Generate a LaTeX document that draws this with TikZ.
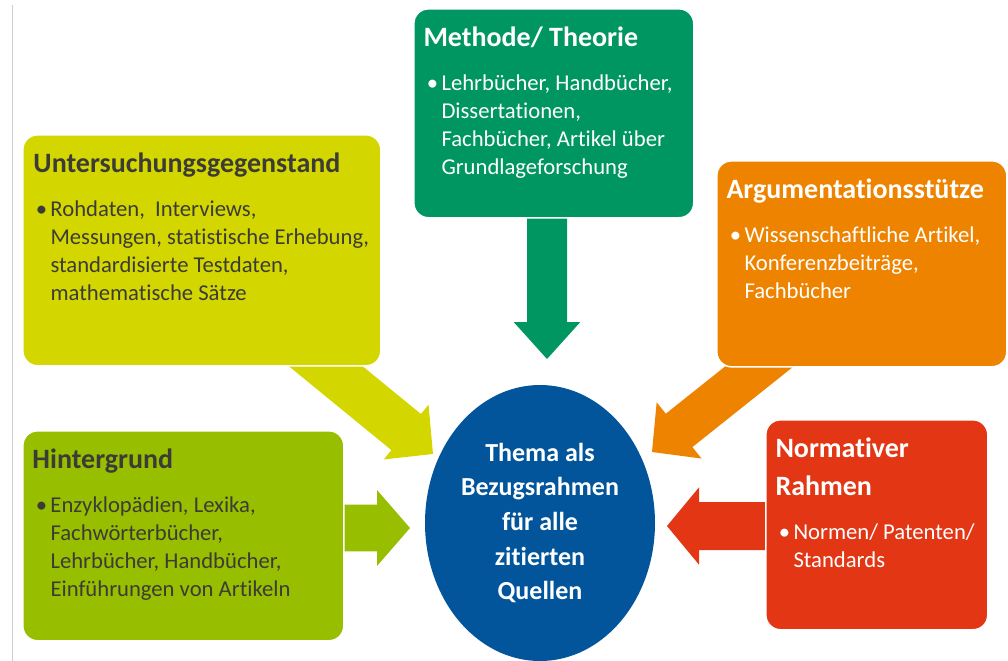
\documentclass[tikz,border=0pt]{standalone}
\usepackage{fontspec}
\setmainfont{Carlito}[Ligatures={NoCommon}]
\usetikzlibrary{calc,shapes.geometric}

\tikzset{every picture/.style={line width=0.75pt}}
\tikzset{
  box/.style={draw=white, line width=1.2pt, rounded corners=11pt, anchor=north west, inner sep=0pt},
  boxtitle/.style={anchor=base west, inner sep=0pt, font=\bfseries\fontsize{21}{28.5}\selectfont},
  boxbody/.style={anchor=base west, inner sep=0pt, font=\fontsize{17}{21.2}\selectfont},
  darktext/.style={text={rgb, 255:red, 60; green, 60; blue, 55 }},
}
\newcommand{\bulletlist}[1]{\makebox[12pt][l]{\hspace{1pt}\textbullet}\begin{tabular}[t]{@{}l@{}}#1\end{tabular}}
% fill, from, to, half shaft, half head, head length
\newcommand{\blockarrow}[6]{%
  \path ($(#3)!#6!(#2)$) coordinate (ab);
  \fill [#1] ($(#2)!#4!90:(#3)$) -- ($(ab)!#4!-90:(#2)$) -- ($(ab)!#5!-90:(#2)$) -- (#3) -- ($(ab)!#5!90:(#2)$) -- ($(ab)!#4!90:(#2)$) -- ($(#2)!#4!-90:(#3)$) -- cycle ;
}

\begin{document}
\begin{tikzpicture}[x=0.75pt,y=0.75pt,yscale=-1,xscale=1]
    \useasboundingbox (0,0) rectangle (1008,661);

    %Straight Lines: page edge
    \draw [color={rgb, 255:red, 205; green, 205; blue, 205 }, line width=1.2pt] (12.5,5) -- (12.5,661) ;

    % arrow ends
    \coordinate (m-from) at (547,200);
    \coordinate (m-to) at (547,359);
    \coordinate (u-from) at (301,346);
    \coordinate (u-to) at (433,454);
    \coordinate (a-from) at (785,346);
    \coordinate (a-to) at (652,452);
    \coordinate (h-from) at (330,528);
    \coordinate (h-to) at (410,528);
    \coordinate (n-from) at (790,526);
    \coordinate (n-to) at (667,526);

    %Shape: Block Arrows
    \blockarrow{fill={rgb, 255:red, 0; green, 150; blue, 98 }}{m-from}{m-to}{15pt}{25pt}{27.75pt}
    \blockarrow{fill={rgb, 255:red, 212; green, 214; blue, 0 }}{u-from}{u-to}{17.5pt}{26.5pt}{26pt}
    \blockarrow{fill={rgb, 255:red, 238; green, 131; blue, 0 }}{a-from}{a-to}{16pt}{27pt}{26pt}
    \blockarrow{fill={rgb, 255:red, 152; green, 190; blue, 0 }}{h-from}{h-to}{17.5pt}{28.5pt}{24.75pt}
    \blockarrow{fill={rgb, 255:red, 226; green, 54; blue, 20 }}{n-from}{n-to}{18pt}{29pt}{24pt}

    %Shape: Rounded Rect
    \node [box, fill={rgb, 255:red, 212; green, 214; blue, 0 }, minimum width=268.5pt, minimum height=173.25pt] (unters) at (22,134) {};
    \node [box, fill={rgb, 255:red, 0; green, 150; blue, 98 }, minimum width=210pt, minimum height=156.75pt] (methode) at (413,8) {};
    \node [box, fill={rgb, 255:red, 238; green, 131; blue, 0 }, minimum width=217.5pt, minimum height=154.5pt] (argument) at (716,160) {};
    \node [box, fill={rgb, 255:red, 152; green, 190; blue, 0 }, minimum width=240.75pt, minimum height=157.5pt] (hintergrund) at (22,430) {};
    \node [box, fill={rgb, 255:red, 226; green, 54; blue, 20 }, minimum width=166.5pt, minimum height=157.5pt] (normativ) at (765,419) {};

    %Shape: Ellipse
    \node [ellipse, fill={rgb, 255:red, 2; green, 85; blue, 155 }, minimum width=172.5pt, minimum height=207pt, inner sep=0pt, text=white, align=center, font=\bfseries\fontsize{19.5}{25.9}\selectfont] (thema) at (540,523) {Thema als\\Bezugsrahmen\\für alle\\zitierten\\Quellen};

    % Text Node
    \node [boxtitle, darktext] (unters-title) at (33,172) {Untersuchungsgegenstand};
    % Text Node
    \node [boxbody, darktext] (unters-body) at (34,216) {\bulletlist{Rohdaten,\ \ Interviews,\\Messungen, statistische Erhebung,\\standardisierte Testdaten,\\mathematische Sätze}};
    % Text Node
    \node [boxtitle, text=white] (methode-title) at (423,46) {Methode/ Theorie};
    % Text Node
    \node [boxbody, text=white] (methode-body) at (425,90) {\bulletlist{Lehrbücher, Handbücher,\\Dissertationen,\\Fachbücher, Artikel über\\Grundlageforschung}};
    % Text Node
    \node [boxtitle, text=white] (argument-title) at (726,198) {Argumentationsstütze};
    % Text Node
    \node [boxbody, text=white] (argument-body) at (728,242) {\bulletlist{Wissenschaftliche Artikel,\\Konferenzbeiträge,\\Fachbücher}};
    % Text Node
    \node [boxtitle, darktext] (hintergrund-title) at (32,468) {Hintergrund};
    % Text Node
    \node [boxbody, darktext] (hintergrund-body) at (34,512) {\bulletlist{Enzyklopädien, Lexika,\\Fachwörterbücher,\\Lehrbücher, Handbücher,\\Einführungen von Artikeln}};
    % Text Node
    \node [boxtitle, text=white] (normativ-title) at (775,457) {\begin{tabular}[t]{@{}l@{}}Normativer\\Rahmen\end{tabular}};
    % Text Node
    \node [boxbody, text=white] (normativ-body) at (777,539) {\bulletlist{Normen/ Patenten/\\Standards}};

\end{tikzpicture}
\end{document}
